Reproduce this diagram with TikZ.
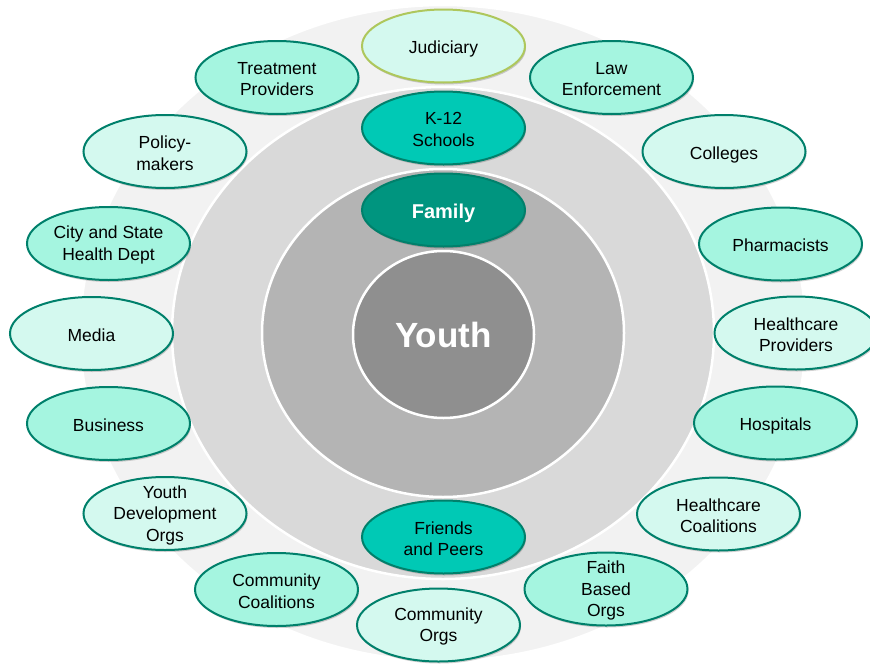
\documentclass[tikz,border=0pt]{standalone}
\usepackage{fontspec}
\setmainfont{Liberation Sans}
\usetikzlibrary{shapes.geometric,shadows}

\definecolor{ringOuter}{HTML}{F2F2F2}
\definecolor{ringMid}{HTML}{D9D9D9}
\definecolor{ringInner}{HTML}{B4B4B4}
\definecolor{youthFill}{HTML}{8F8F8F}
\definecolor{paleMint}{HTML}{D4F9EF}
\definecolor{mintFill}{HTML}{A5F5E0}
\definecolor{tealEdge}{HTML}{00806B}
\definecolor{tealBright}{HTML}{00C9B5}
\definecolor{tealDark}{HTML}{00957F}
\definecolor{oliveEdge}{HTML}{AEC75C}

\begin{document}
\begin{tikzpicture}[x=1pt,y=-1pt,
  bubble/.style={ellipse, minimum width=163pt, minimum height=73pt, inner sep=0pt,
    draw=tealEdge, line width=2pt,
    drop shadow={shadow xshift=1pt, shadow yshift=-2pt, opacity=0.18, fill=black}},
  palebub/.style={bubble, fill=paleMint},
  mintbub/.style={bubble, fill=mintFill},
  lbl/.style={font=\fontsize{17.5}{21.5}\selectfont, align=center, text=black,
    inner sep=0pt, yshift=-1.5pt},
  lblone/.style={lbl, text depth=0pt},
  ring/.style={draw=white, line width=2.5pt}
]
\useasboundingbox (0,0) rectangle (870,664);

% concentric bands
\fill[ringOuter, ring] (443,333) ellipse [x radius=363, y radius=328];
\fill[ringMid, ring] (443,333) ellipse [x radius=271, y radius=246];
\fill[ringInner, ring] (443,333) ellipse [x radius=181, y radius=164];

% centre
\node[ellipse, minimum width=181pt, minimum height=167pt, inner sep=0pt,
  fill=youthFill, draw=white, line width=2.5pt, text=white,
  font=\bfseries\fontsize{35}{40}\selectfont] (youth) at (443.5,334.5) {Youth};

% inner circles
\node[bubble, fill=tealDark, label={[lblone, text=white, font=\bfseries\fontsize{20}{24}\selectfont]center:Family}] (family) at (443.5,210) {};
\node[bubble, fill=tealBright, label={[lbl]center:{K-12\\Schools}}] (k12) at (443.5,128) {};
\node[bubble, fill=tealBright, label={[lbl]center:{Friends\\and Peers}}] (friends) at (443.5,537) {};

% outer community ring
\node[palebub, draw=oliveEdge, label={[lblone]center:Judiciary}] (jud) at (443.5,46) {};
\node[mintbub, label={[lbl]center:{Law\\Enforcement}}] (law) at (611.5,77.5) {};
\node[palebub, label={[lblone]center:Colleges}] (col) at (724,151.5) {};
\node[mintbub, label={[lblone]center:Pharmacists}] (pha) at (780.5,244) {};
\node[palebub, label={[lbl]center:{Healthcare\\Providers}}] (hcp) at (796,333) {};
\node[mintbub, label={[lblone]center:Hospitals}] (hos) at (775.5,423) {};
\node[palebub, label={[lbl]center:{Healthcare\\Coalitions}}] (hcc) at (718.5,514) {};
\node[mintbub, label={[lbl]center:{Faith\\Based\\Orgs}}] (fbo) at (606,589) {};
\node[palebub, label={[lbl]center:{Community\\Orgs}}] (cor) at (438.5,625) {};
\node[mintbub, label={[lbl]center:{Community\\Coalitions}}] (cco) at (276.5,589.5) {};
\node[palebub, label={[lbl]center:{Youth\\Development\\Orgs}}] (ydo) at (165,513.5) {};
\node[mintbub, label={[lblone]center:Business}] (bus) at (108.5,423.5) {};
\node[palebub, label={[lblone]center:Media}] (med) at (91.5,333.5) {};
\node[mintbub, label={[lbl]center:{City and State\\Health Dept}}] (csh) at (108.5,243.5) {};
\node[palebub, label={[lbl]center:{Policy-\\makers}}] (pol) at (165,151.5) {};
\node[mintbub, label={[lbl]center:{Treatment\\Providers}}] (tre) at (277,77.5) {};
\end{tikzpicture}
\end{document}
